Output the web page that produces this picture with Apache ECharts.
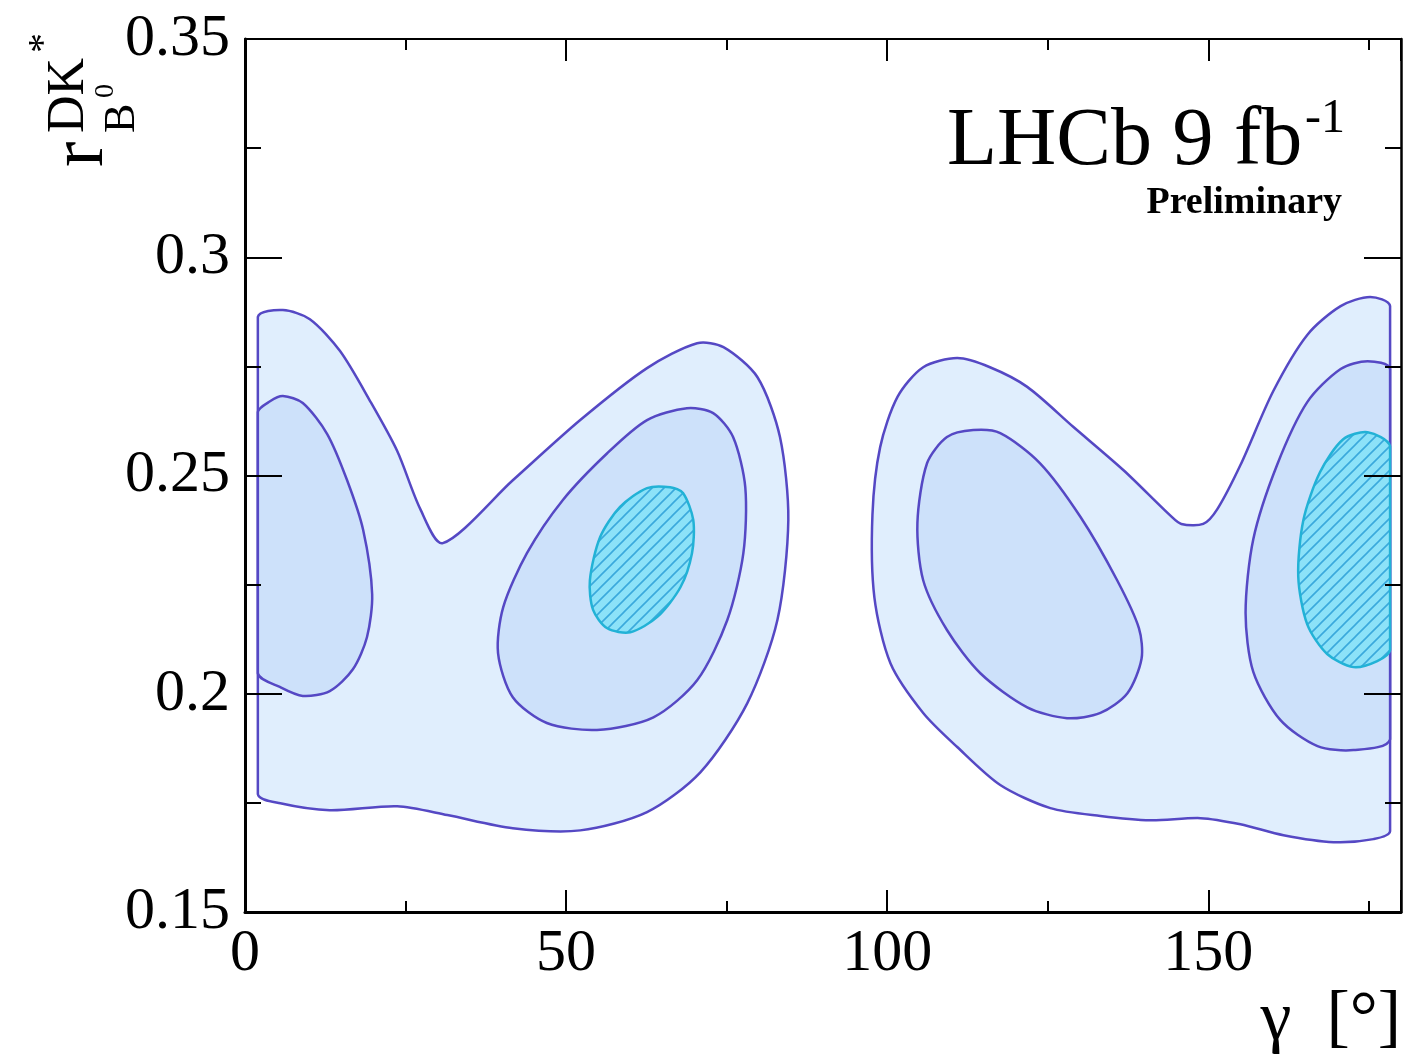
<!DOCTYPE html>
<html>
<head>
<meta charset="utf-8">
<script src="https://cdn.jsdelivr.net/npm/echarts@6/dist/echarts.min.js"></script>
<style>
  html, body { margin: 0; padding: 0; background: #fff; }
  #chart { width: 1404px; height: 1064px; }
</style>
</head>
<body>
<div id="chart"></div>
<script>
// contour regions, as [gamma (deg), r] pairs
var outerLeft = [[2.0,0.1770],[5.5,0.1749],[13.2,0.1733],[23.7,0.1742],[31.5,0.1722],[41.7,0.1692],[52.2,0.1687],[62.6,0.1729],[70.9,0.1820],[78.2,0.1978],[82.9,0.2169],[84.6,0.2398],[83.3,0.2588],[79.8,0.2725],[74.5,0.2794],[70.4,0.2803],[62.6,0.2746],[52.2,0.2627],[41.7,0.2489],[30.8,0.2345],[27.3,0.2423],[23.7,0.2556],[19.5,0.2670],[14.8,0.2785],[10.1,0.2858],[5.9,0.2879],[2.0,0.2863],[2.0,0.2500],[2.0,0.2100]];
var outerRight = [[97.7,0.2410],[98.9,0.2565],[101.6,0.2680],[105.6,0.2748],[110.9,0.2769],[116.0,0.2748],[121.8,0.2703],[129.0,0.2611],[136.8,0.2512],[144.1,0.2408],[145.8,0.2389],[149.2,0.2389],[151.4,0.2423],[155.0,0.2524],[160.1,0.2693],[165.4,0.2822],[170.6,0.2888],[175.2,0.2909],[178.3,0.2888],[178.3,0.2500],[178.3,0.2100],[178.3,0.1685],[175.7,0.1667],[169.5,0.1660],[161.7,0.1676],[155.0,0.1701],[148.8,0.1715],[141.0,0.1710],[133.2,0.1720],[125.4,0.1738],[117.6,0.1791],[110.9,0.1878],[105.6,0.1956],[100.5,0.2070],[98.0,0.2221]];

var midLeftA = [[2.0,0.2047],[5.5,0.2015],[9.0,0.1995],[13.2,0.2006],[16.8,0.2056],[19.0,0.2130],[19.8,0.2228],[18.4,0.2375],[15.9,0.2489],[12.8,0.2595],[9.0,0.2666],[5.9,0.2682],[3.9,0.2670],[2.0,0.2645],[2.0,0.2350]];
var midLeftB = [[68.8,0.2654],[72.9,0.2643],[76.0,0.2588],[77.9,0.2473],[77.6,0.2322],[75.1,0.2169],[70.4,0.2031],[63.6,0.1946],[54.8,0.1917],[47.0,0.1933],[41.7,0.1992],[39.4,0.2093],[40.2,0.2198],[43.9,0.2322],[49.5,0.2444],[56.4,0.2551],[62.6,0.2627]];
var midRightA = [[113.4,0.2604],[117.6,0.2597],[123.8,0.2528],[130.1,0.2405],[135.8,0.2260],[139.2,0.2150],[139.6,0.2080],[137.4,0.2001],[133.2,0.1956],[128.0,0.1944],[121.8,0.1969],[114.5,0.2047],[109.3,0.2146],[105.6,0.2260],[104.7,0.2391],[106.2,0.2528],[109.3,0.2588]];
var midRightB = [[178.3,0.2744],[174.8,0.2762],[170.6,0.2744],[165.4,0.2668],[160.7,0.2524],[157.0,0.2354],[155.8,0.2185],[157.0,0.2050],[161.2,0.1940],[167.0,0.1880],[172.6,0.1871],[178.3,0.1896],[178.3,0.2320]];

var innerLeft = [[66.2,0.2473],[68.2,0.2460],[69.8,0.2398],[69.6,0.2322],[67.8,0.2244],[64.2,0.2176],[60.0,0.2141],[56.4,0.2150],[54.2,0.2192],[53.7,0.2260],[55.3,0.2359],[58.4,0.2428],[62.6,0.2471]];
var innerRight = [[178.3,0.2567],[174.8,0.2599],[171.0,0.2583],[167.4,0.2508],[164.8,0.2398],[164.0,0.2269],[165.4,0.2159],[168.5,0.2091],[172.6,0.2061],[176.3,0.2075],[178.3,0.2100],[178.3,0.2330]];

var gammaRange = [0, 180];
var rRange = [0.15, 0.35];
var contourEdge = [2.0, 178.3]; // gamma limits of the scanned region

var FONT = '"Liberation Serif", "Times New Roman", serif';
var LINE = '#5548c4';

// hatch pattern for the innermost region
var hatch = document.createElement('canvas');
hatch.width = 12; hatch.height = 12;
var hc = hatch.getContext('2d');
hc.fillStyle = '#8ce2f8';
hc.fillRect(0, 0, 12, 12);
hc.strokeStyle = '#3aa9dc';
hc.lineWidth = 1.6;
hc.beginPath();
hc.moveTo(-3, 15); hc.lineTo(15, -3);
hc.moveTo(-9, 9); hc.lineTo(9, -9);
hc.moveTo(3, 21); hc.lineTo(21, 3);
hc.stroke();

function contourSeries(polys, fill, stroke, z) {
  return {
    type: 'custom',
    coordinateSystem: 'cartesian2d',
    xAxisIndex: 0,
    yAxisIndex: 0,
    z: z,
    silent: true,
    data: polys.map(function (p) { return [p[0][0], p[0][1]]; }),
    renderItem: function (params, api) {
      var pts = polys[params.dataIndex].map(function (p) { return api.coord(p); });
      // stop the smoothed outline from bulging past the region's vertical edges
      var lo = [api.coord([contourEdge[0], rRange[0]])[0], -1e6];
      var hi = [api.coord([contourEdge[1], rRange[0]])[0], 1e6];
      return {
        type: 'polygon',
        shape: { points: pts, smooth: 0.28, smoothConstraint: [lo, hi] },
        style: { fill: fill, stroke: stroke, lineWidth: 2.5 }
      };
    }
  };
}

var chart = echarts.init(document.getElementById('chart'));

var labelStyle = { fontFamily: FONT, fontSize: 60, color: '#000' };

var option = {
  animation: false,
  backgroundColor: '#fff',
  grid: { left: 245, right: 3, top: 39, bottom: 152 },
  xAxis: [
    {
      type: 'value', position: 'bottom', min: gammaRange[0], max: gammaRange[1], interval: 50, z: 10,
      axisLine: { show: true, onZero: false, lineStyle: { color: '#000', width: 3 } },
      axisTick: { show: true, inside: true, length: 22, lineStyle: { color: '#000', width: 2 } },
      axisLabel: Object.assign({ margin: 12, formatter: function (v) { return v <= 150 ? String(v) : ''; } }, labelStyle),
      splitLine: { show: false }
    },
    {
      type: 'value', position: 'bottom', min: gammaRange[0], max: gammaRange[1], interval: 25, z: 10,
      axisLine: { show: false },
      axisTick: { show: true, inside: true, length: 11, lineStyle: { color: '#000', width: 2 } },
      axisLabel: { show: false }, splitLine: { show: false }
    },
    {
      type: 'value', position: 'top', min: gammaRange[0], max: gammaRange[1], interval: 50, z: 10,
      axisLine: { show: true, onZero: false, lineStyle: { color: '#000', width: 2 } },
      axisTick: { show: true, inside: true, length: 22, lineStyle: { color: '#000', width: 2 } },
      axisLabel: { show: false }, splitLine: { show: false }
    },
    {
      type: 'value', position: 'top', min: gammaRange[0], max: gammaRange[1], interval: 25, z: 10,
      axisLine: { show: false },
      axisTick: { show: true, inside: true, length: 11, lineStyle: { color: '#000', width: 2 } },
      axisLabel: { show: false }, splitLine: { show: false }
    }
  ],
  yAxis: [
    {
      type: 'value', position: 'left', min: rRange[0], max: rRange[1], interval: 0.05, z: 10,
      axisLine: { show: true, onZero: false, lineStyle: { color: '#000', width: 3 } },
      axisTick: { show: true, inside: true, length: 37, lineStyle: { color: '#000', width: 2 } },
      minorTick: { show: true, splitNumber: 2, length: 16, lineStyle: { color: '#000', width: 2 } },
      axisLabel: Object.assign({ margin: 15 }, labelStyle),
      splitLine: { show: false }
    },
    {
      type: 'value', position: 'right', min: rRange[0], max: rRange[1], interval: 0.05, z: 10,
      axisLine: { show: true, onZero: false, lineStyle: { color: '#000', width: 2.5 } },
      axisTick: { show: true, inside: true, length: 37, lineStyle: { color: '#000', width: 2 } },
      minorTick: { show: true, splitNumber: 2, length: 16, lineStyle: { color: '#000', width: 2 } },
      axisLabel: { show: false }, splitLine: { show: false }
    }
  ],
  series: [
    contourSeries([outerLeft, outerRight], '#e0eefd', LINE, 2),
    contourSeries([midLeftA, midLeftB, midRightA, midRightB], '#cde1fa', LINE, 3),
    contourSeries([innerLeft, innerRight], { image: hatch, repeat: 'repeat' }, '#22b2d6', 4)
  ],
  graphic: [
    {
      type: 'group', x: 108, y: 167, rotation: Math.PI / 2,
      children: [
        { type: 'text', x: 0, y: -25.6, style: { text: 'r', font: '76px ' + FONT, fill: '#000', align: 'left', verticalAlign: 'middle' } },
        { type: 'text', x: 34, y: -38.5, style: { text: 'DK', font: '52px ' + FONT, fill: '#000', align: 'left', verticalAlign: 'middle' } },
        { type: 'text', x: 114, y: -63.5, style: { text: '*', font: '40px ' + FONT, fill: '#000', align: 'left', verticalAlign: 'middle' } },
        { type: 'text', x: 34, y: 14, style: { text: 'B', font: '44px ' + FONT, fill: '#000', align: 'left', verticalAlign: 'middle' } },
        { type: 'text', x: 69, y: -2.5, style: { text: '0', font: '28px ' + FONT, fill: '#000', align: 'left', verticalAlign: 'middle' } }
      ]
    },
    { type: 'text', x: 947, y: 142, style: { text: 'LHCb 9 fb', font: '82px ' + FONT, fill: '#000', align: 'left', verticalAlign: 'middle' } },
    { type: 'text', x: 1305, y: 119, style: { text: '-1', font: '48px ' + FONT, fill: '#000', align: 'left', verticalAlign: 'middle' } },
    { type: 'text', x: 1342, y: 203, style: { text: 'Preliminary', font: 'bold 38px ' + FONT, fill: '#000', align: 'right', verticalAlign: 'middle' } },
    { type: 'text', x: 1401, y: 1021, style: { text: 'γ  [°]', font: '70px ' + FONT, fill: '#000', align: 'right', verticalAlign: 'middle' } }
  ]
};

chart.setOption(option);
</script>
</body>
</html>
